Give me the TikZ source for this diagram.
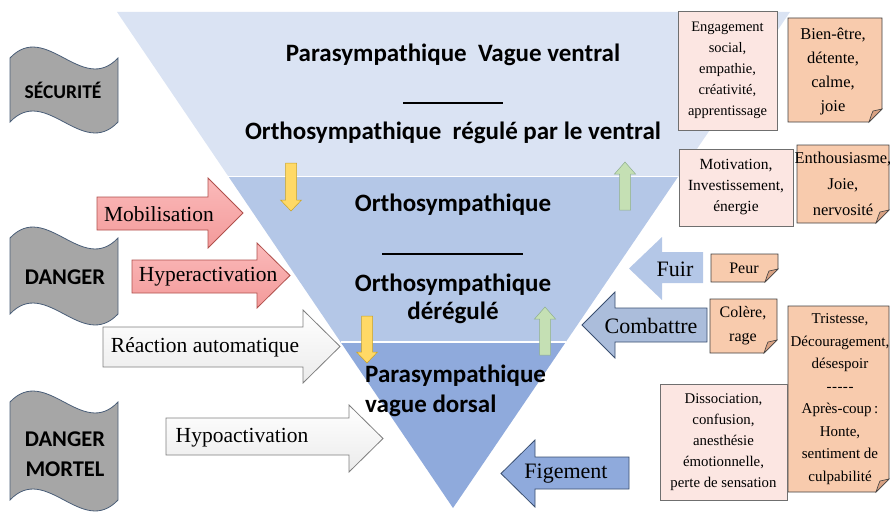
\documentclass[tikz,border=0pt]{standalone}
\usepackage{fontspec}
\setmainfont{Liberation Serif}
\newfontfamily\calibrifont{Carlito}
\usetikzlibrary{calc}
\definecolor{bandA}{HTML}{DAE3F3}
\definecolor{bandB}{HTML}{B4C7E7}
\definecolor{bandC}{HTML}{8FAADC}
\definecolor{bannergray}{HTML}{A6A6A6}
\definecolor{bannerline}{HTML}{4A5E78}
\definecolor{pinkT}{HTML}{FBBABA}
\definecolor{pinkB}{HTML}{F39A9A}
\definecolor{pinkline}{HTML}{B0504C}
\definecolor{greyT}{HTML}{FFFFFF}
\definecolor{greyB}{HTML}{EBEBEB}
\definecolor{greyline}{HTML}{7F7F7F}
\definecolor{blueline}{HTML}{3A4F70}
\definecolor{yel}{HTML}{FFD966}
\definecolor{yelline}{HTML}{C9A227}
\definecolor{grn}{HTML}{C5E0B4}
\definecolor{grnline}{HTML}{8FAF8F}
\definecolor{pinkfill}{HTML}{FCE6E2}
\definecolor{boxline}{HTML}{6F6F6F}
\definecolor{orangefill}{HTML}{F8CBAD}
\definecolor{orangedark}{HTML}{D9A283}
\definecolor{orangeline}{HTML}{404040}
% block arrow: [style]{x0}{body top}{body bottom}{head base x}{head top}{head bottom}{tip x}
\newcommand\blockarrow[8][]{%
  \path[#1] (#2,#3) -- (#5,#3) -- (#5,#6) -- (#8,{(#6+#7)/2}) -- (#5,#7) -- (#5,#4) -- (#2,#4) -- cycle;}
% vertical small arrow: [style]{cx}{tail y}{head base y}{tip y}
\newcommand\vblock[5][]{%
  \path[#1] ({#2-5.5},#3) -- ({#2+5.5},#3) -- ({#2+5.5},#4) -- ({#2+10.5},#4) -- (#2,#5) -- ({#2-10.5},#4) -- ({#2-5.5},#4) -- cycle;}
% wave banner: {top y}{bottom y}
\newcommand\wavebanner[2]{%
  \path[bannerstyle] (10,#1) .. controls (46,{#1-38}) and (82,{#1+38}) .. (118,#1) -- (118,#2) .. controls (82,{#2+38}) and (46,{#2-38}) .. (10,#2) -- cycle;}
% folded corner box: {x0}{y0}{x1}{y1}
\newcommand\foldbox[4]{%
  \path[foldbody] (#1,#2) -- (#3,#2) -- (#3,{#4-13}) -- ({#3-13},#4) -- (#1,#4) -- cycle;
  \path[foldflap] ({#3-13},#4) .. controls ({#3-11},{#4-6}) and ({#3-10},{#4-9}) .. ({#3-9},{#4-11}) -- (#3,{#4-13}) -- cycle;}
\newcommand\hyphenrow{-\kern0.5pt-\kern0.5pt-\kern0.5pt-\kern0.5pt-}
\tikzset{
  bannerstyle/.style={fill=bannergray, draw=bannerline, line width=0.8pt},
  pinkarrow/.style={top color=pinkT, bottom color=pinkB, draw=pinkline, line width=0.8pt},
  greyarrow/.style={top color=greyT, bottom color=greyB, draw=greyline, line width=0.8pt},
  fuirarrow/.style={fill=bandB},
  combarrow/.style={fill=bandB!95!black, draw=blueline, line width=0.8pt},
  figarrow/.style={fill=bandC, draw=blueline, line width=0.8pt},
  yelarrow/.style={fill=yel, draw=yelline, line width=0.5pt},
  grnarrow/.style={fill=grn, draw=grnline, line width=0.5pt},
  foldbody/.style={fill=orangefill, draw=orangeline, line width=0.8pt},
  foldflap/.style={fill=orangedark, draw=orangeline, line width=0.6pt},
  bigtxt/.style={font=\calibrifont\bfseries\fontsize{25}{28}\selectfont, inner sep=0pt, align=center},
  bantxt/.style={font=\calibrifont\bfseries\fontsize{22.5}{30}\selectfont, inner sep=0pt, align=center},
  arrtxt/.style={font=\fontsize{21.5}{26}\selectfont, inner sep=0pt},
  pinkbox/.style={draw=boxline, fill=pinkfill, line width=0.8pt, inner sep=0pt, align=center},
  boxtxt/.style={inner sep=0pt, align=center},
  rulestyle/.style={line width=1.3pt}
}
\begin{document}
\begin{tikzpicture}[x=1pt,y=-1pt]
\useasboundingbox (0,0) rectangle (890,524);
% triangle
\coordinate (TL) at (117,12);
\coordinate (TR) at (790,12);
\coordinate (tip) at (453,508);
\coordinate (L1) at ($(TL)!0.3317!(tip)$);
\coordinate (R1) at ($(TR)!0.3317!(tip)$);
\coordinate (L2) at ($(TL)!0.6653!(tip)$);
\coordinate (R2) at ($(TR)!0.6653!(tip)$);
\fill[bandA] (TL) -- (TR) -- (R1) -- (L1) -- cycle;
\fill[bandB] (L1) -- (R1) -- (R2) -- (L2) -- cycle;
\fill[bandC] (L2) -- (R2) -- (tip) -- cycle;
\draw[white, line width=1.2pt] (L1) -- (R1) (L2) -- (R2);

% texts in triangle
\node[bigtxt] (pv) at (453,55) {Parasympathique\ \ Vague ventral};
\draw[rulestyle] (403,103) -- (503,103);
\node[bigtxt] (orv) at (453,133) {Orthosympathique\ \ régulé par le ventral};
\node[bigtxt] (os) at (453,205) {Orthosympathique};
\draw[rulestyle] (382,254) -- (523,254);
\node[bigtxt] (osd) at (453,299) {Orthosympathique\\dérégulé};
\node[bigtxt, align=left, anchor=west, font=\calibrifont\bfseries\fontsize{25}{30}\selectfont] (pd) at (365,391) {Parasympathique\\vague dorsal};

% small vertical arrows
\vblock[yelarrow]{291}{163}{200}{211}
\vblock[yelarrow]{367}{316}{352}{363}
\vblock[grnarrow]{625}{210}{174}{162}
\vblock[grnarrow]{545}{355}{319}{307}

% wave banners
\wavebanner{58}{122}
\node[bantxt, font=\calibrifont\bfseries\fontsize{19.5}{24}\selectfont] (secu) at (63,90) {SÉCURITÉ};
\wavebanner{238}{314}
\node[bantxt] (dang) at (65,277) {DANGER};
\wavebanner{402}{500}
\node[bantxt] (mort) at (65,454) {DANGER\\MORTEL};

% left arrows
\blockarrow[pinkarrow]{97}{197}{230}{208}{178}{248}{243}
\node[arrtxt] (mob) at (159,214) {Mobilisation};
\blockarrow[pinkarrow]{132}{260}{293}{257}{243}{308}{290}
\node[arrtxt] (hyper) at (208,277) {Hyperactivation};
\blockarrow[greyarrow]{103}{327}{367}{303}{310}{383}{340}
\node[arrtxt] (react) at (205,347) {Réaction automatique};
\blockarrow[greyarrow]{166}{418}{455}{349}{405}{472}{383}
\node[arrtxt] (hypo) at (242,438) {Hypoactivation};

% right arrows
\blockarrow[fuirarrow]{703}{252}{283}{662}{237}{300}{629}
\node[arrtxt, font=\fontsize{22}{26}\selectfont] (fuir) at (675,269) {Fuir};
\blockarrow[combarrow]{707}{308}{342}{615}{292}{358}{582}
\node[arrtxt, font=\fontsize{22}{26}\selectfont] (comb) at (651,326) {Combattre};
\blockarrow[figarrow]{629}{457}{489}{535}{440}{507}{501}
\node[arrtxt, font=\fontsize{22}{26}\selectfont] (fig) at (566,474) {Figement};

% right boxes
\node[pinkbox, minimum width=99, minimum height=119, font=\fontsize{14.5}{21}\selectfont] (eng) at (727.5,70.5)
  {Engagement\\social,\\empathie,\\créativité,\\apprentissage};
\foldbox{788}{18}{882}{122}
\node[boxtxt, font=\fontsize{16.5}{24}\selectfont] (bien) at (833,72) {Bien-être,\\détente,\\calme,\\joie};
\node[pinkbox, minimum width=114, minimum height=77, font=\fontsize{15.5}{21}\selectfont] (moti) at (736,187.5)
  {Motivation,\\Investissement,\\énergie};
\foldbox{797}{145}{889}{223}
\node[boxtxt, font=\fontsize{16.5}{26}\selectfont] (enth) at (843,184) {Enthousiasme,\\Joie,\\nervosité};
\foldbox{711}{254}{778}{282}
\node[boxtxt, font=\fontsize{16}{24}\selectfont] (peur) at (744,268) {Peur};
\foldbox{710}{299}{777}{353}
\node[boxtxt, font=\fontsize{16}{24}\selectfont] (colere) at (743,326) {Colère,\\rage};
\foldbox{788}{306}{889}{492}
\node[boxtxt, font=\fontsize{15}{22.5}\selectfont] (trist) at (840,399)
  {Tristesse,\\Découragement,\\désespoir\\\hyphenrow\\Après-coup\,:\\Honte,\\sentiment\ de\\culpabilité};
\node[pinkbox, minimum width=127, minimum height=116, font=\fontsize{14.8}{21}\selectfont] (disso) at (723.5,442)
  {Dissociation,\\confusion,\\anesthésie\\émotionnelle,\\perte de sensation};
\end{tikzpicture}
\end{document}
